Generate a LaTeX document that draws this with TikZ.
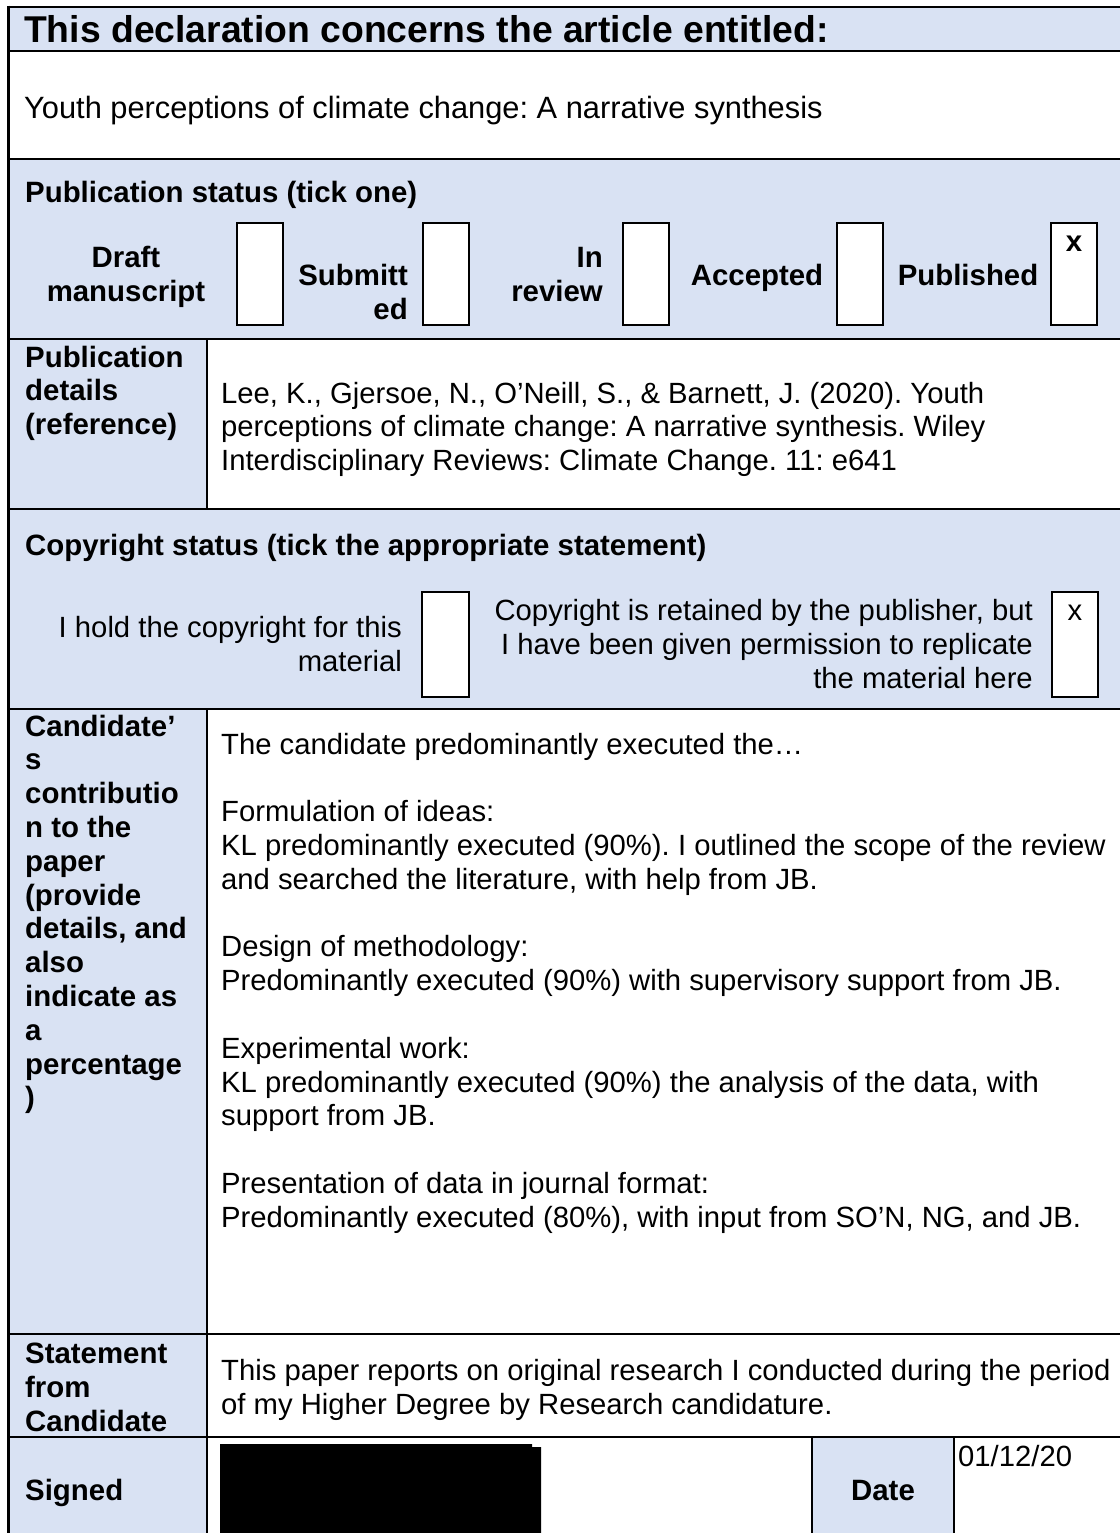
\documentclass[tikz,border=0pt]{standalone}
\usepackage{fontspec}
\setmainfont{Liberation Sans}
\frenchspacing
\definecolor{cellblue}{HTML}{D9E2F3}
\tikzset{
  rule/.style={line width=2.7pt, draw=black},
  colrule/.style={line width=2.2pt, draw=black},
  shade/.style={fill=cellblue, draw=none},
  tickbox/.style={draw=black, line width=2pt, fill=white},
  txt/.style={inner sep=0pt, font=\fontsize{29.25}{33.8}\selectfont},
  bld/.style={inner sep=0pt, font=\fontsize{29.4}{33.8}\selectfont\bfseries},
  tl/.style={txt, anchor=base west},
  tr/.style={txt, anchor=base east},
  tc/.style={txt, anchor=base},
  bl/.style={bld, anchor=base west},
  br/.style={bld, anchor=base east},
  bc/.style={bld, anchor=base},
}
\begin{document}
\begin{tikzpicture}[x=1pt, y=-1pt]
\useasboundingbox (0,0) rectangle (1119,1533);
\fill[white] (0,0) rectangle (1119,1533);

% shaded cells
\fill[shade] (8,7) rectangle (1125,51);
\fill[shade] (8,159) rectangle (1125,339);
\fill[shade] (8,339) rectangle (207,509);
\fill[shade] (8,509) rectangle (1125,709);
\fill[shade] (8,709) rectangle (207,1334);
\fill[shade] (8,1334) rectangle (207,1437);
\fill[shade] (8,1437) rectangle (207,1540);
\fill[shade] (812,1437) rectangle (954,1540);

% tick boxes
\draw[tickbox] (237,223) rectangle (283,325);
\draw[tickbox] (423,223) rectangle (469,325);
\draw[tickbox] (623,223) rectangle (669,325);
\draw[tickbox] (837,223) rectangle (883,325);
\draw[tickbox] (1051,223) rectangle (1097,325);
\draw[tickbox] (422,592) rectangle (469,697);
\draw[tickbox] (1052,592) rectangle (1098,697);

% table rules
\foreach \yy in {7,51,159,339,509,709,1334,1437}
  \draw[rule] (7,\yy) -- (1125,\yy);
\draw[rule] (8.4,5.7) -- (8.4,1540);
\draw[colrule] (207,339) -- (207,509);
\draw[colrule] (207,709) -- (207,1540);
\draw[colrule] (812,1437) -- (812,1540);
\draw[colrule] (954,1437) -- (954,1540);

% redacted signature
\fill[black] (220,1444) -- (532,1444) -- (532,1447) -- (541,1447) -- (541,1540) -- (220,1540) -- cycle;

% header
\node[anchor=base west, inner sep=0pt, font=\fontsize{37.3}{41}\selectfont\bfseries] (head) at (24,43) {This declaration concerns the article entitled:};
\node[anchor=base west, inner sep=0pt, font=\fontsize{30.8}{34}\selectfont] (title) at (24,118.5) {Youth perceptions of climate change: A narrative synthesis};

% publication status
\node[bl] (pubst) at (25,203) {Publication status (tick one)};
\node[bc] (draftA) at (126,267) {Draft};
\node[bc] (draftB) at (126,301) {manuscript};
\node[br] (subA) at (408,285) {Submitt};
\node[br] (subB) at (408,319) {ed};
\node[br] (revA) at (603,267) {In};
\node[br] (revB) at (603,301) {review};
\node[bc] (acc) at (757,285) {Accepted};
\node[bc] (pub) at (968,285) {Published};
\node[bc] (pubx) at (1074,251) {x};

% publication details
\node[bl] (detA) at (25,367) {Publication};
\node[bl] (detB) at (25,400.8) {details};
\node[bl] (detC) at (25,434.6) {(reference)};
\node[tl] (refA) at (221,403) {Lee, K., Gjersoe, N., O’Neill, S., \& Barnett, J. (2020). Youth};
\node[tl] (refB) at (221,436.8) {perceptions of climate change: A narrative synthesis. Wiley};
\node[tl] (refC) at (221,470.6) {Interdisciplinary Reviews: Climate Change. 11: e641};

% copyright status
\node[bl] (copst) at (25,555) {Copyright status (tick the appropriate statement)};
\node[tr] (holdA) at (402,637) {I hold the copyright for this};
\node[tr] (holdB) at (402,671) {material};
\node[tr] (retA) at (1033,620) {Copyright is retained by the publisher, but};
\node[tr] (retB) at (1033,654) {I have been given permission to replicate};
\node[tr] (retC) at (1033,688) {the material here};
\node[tc] (copx) at (1075,620) {x};

% candidate's contribution
\node[bl] (canA) at (25,736) {Candidate’};
\node[bl] (canB) at (25,769.8) {s};
\node[bl] (canC) at (25,803.6) {contributio};
\node[bl] (canD) at (25,837.4) {n to the};
\node[bl] (canE) at (25,871.2) {paper};
\node[bl] (canF) at (25,905) {(provide};
\node[bl] (canG) at (25,938.8) {details, and};
\node[bl] (canH) at (25,972.6) {also};
\node[bl] (canI) at (25,1006.4) {indicate as};
\node[bl] (canJ) at (25,1040.2) {a};
\node[bl] (canK) at (25,1074) {percentage};
\node[bl] (canL) at (25,1107.8) {)};

\node[tl] (conA) at (221,754) {The candidate predominantly executed the…};
\node[tl] (conB) at (221,821.6) {Formulation of ideas:};
\node[tl] (conC) at (221,855.4) {KL predominantly executed (90\%). I outlined the scope of the review};
\node[tl] (conD) at (221,889.2) {and searched the literature, with help from JB.};
\node[tl] (conE) at (221,956.8) {Design of methodology:};
\node[tl] (conF) at (221,990.6) {Predominantly executed (90\%) with supervisory support from JB.};
\node[tl] (conG) at (221,1058.2) {Experimental work:};
\node[tl] (conH) at (221,1092) {KL predominantly executed (90\%) the analysis of the data, with};
\node[tl] (conI) at (221,1125.8) {support from JB.};
\node[tl] (conJ) at (221,1193.4) {Presentation of data in journal format:};
\node[tl] (conK) at (221,1227.2) {Predominantly executed (80\%), with input from SO’N, NG, and JB.};

% statement
\node[bl] (staA) at (25,1363) {Statement};
\node[bl] (staB) at (25,1397) {from};
\node[bl] (staC) at (25,1431) {Candidate};
\node[tl] (stmA) at (221,1380) {This paper reports on original research I conducted during the period};
\node[tl] (stmB) at (221,1414) {of my Higher Degree by Research candidature.};

% signature and date
\node[bl] (sig) at (25,1500) {Signed};
\node[bc] (dlab) at (883,1500) {Date};
\node[tl] (dval) at (958,1466) {01/12/20};
\end{tikzpicture}
\end{document}
